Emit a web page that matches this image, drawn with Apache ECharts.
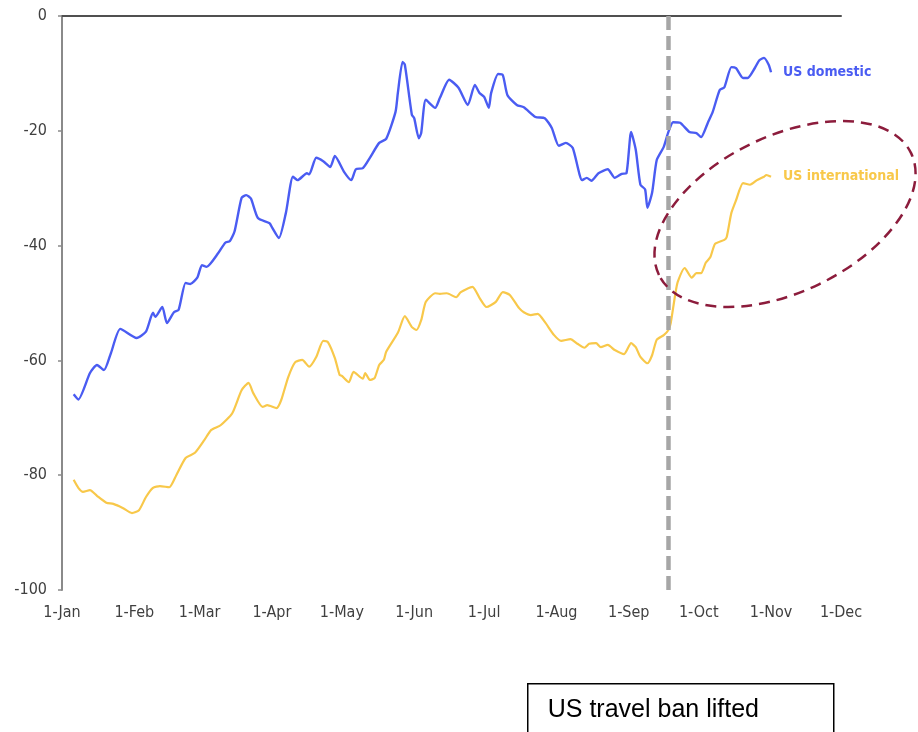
<!DOCTYPE html>
<html>
<head>
<meta charset="utf-8">
<script src="https://cdn.jsdelivr.net/npm/echarts@6/dist/echarts.min.js"></script>
<style>
  html, body { margin: 0; padding: 0; background: #ffffff; }
  #chart { width: 918px; height: 732px; }
</style>
</head>
<body>
<div id="chart"></div>
<script>
// ---- Data (day offsets from 1 Jan 2021, values in %) ----
const YEAR = 2021;
const monthNames = ['Jan','Feb','Mar','Apr','May','Jun','Jul','Aug','Sep','Oct','Nov','Dec'];
const monthTickMonths = [0,1,2,3,4,5,6,7,8,9,10,11];
const yTicks = [0, -20, -40, -60, -80, -100];

const domesticName = 'US domestic';
const domesticDay = [5,7,12,15,18,21,25,32,36,39,40,43,45,48,50,53,55,58,60,62,67,70,72,74,77,79,81,84,89,90,93,96,99,101,105,106,109,112,115,117,121,124,126,129,132,136,139,143,144,146,147,150,151,153,154,156,160,162,166,170,174,177,179,181,183,184,187,189,191,195,198,203,207,210,213,216,219,223,225,227,230,234,237,240,242,244,246,248,250,251,253,255,258,260,262,265,269,272,274,277,279,282,284,287,289,292,294,297,299,301,303,304];
const domesticVal = [-65.9,-66.8,-62.2,-60.8,-61.7,-58.7,-54.5,-56.1,-55,-51.7,-52.4,-50.7,-53.5,-51.6,-51.2,-46.5,-46.7,-45.6,-43.4,-43.7,-41.3,-39.5,-39.2,-37.5,-31.7,-31.2,-31.8,-35.2,-36.1,-36.8,-38.7,-34.3,-28.0,-28.6,-27.4,-27.6,-24.7,-25.3,-26.3,-24.4,-27.2,-28.6,-26.7,-26.5,-24.7,-22.1,-21.4,-16.7,-13.4,-8.0,-8.5,-17.2,-17.8,-21.3,-20.4,-14.6,-16.0,-14.3,-11.1,-12.5,-15.5,-12.0,-13.4,-14.1,-16.0,-13.4,-10.1,-10.3,-13.8,-15.5,-15.9,-17.6,-17.8,-19.5,-22.6,-22.1,-23,-28.6,-28.2,-28.7,-27.4,-26.7,-28.2,-27.5,-27.4,-20.2,-23.3,-29.4,-30.2,-33.4,-30.8,-25.1,-22.8,-20.2,-18.5,-18.6,-20.2,-20.4,-21.1,-18.5,-16.7,-12.9,-12.4,-8.9,-9.1,-10.8,-10.8,-9.1,-7.7,-7.3,-8.5,-9.8];

const intlName = 'US international';
const intlDay = [5,7,9,12,15,19,22,26,30,33,36,39,42,46,49,53,57,61,64,68,73,77,80,82,86,88,92,94,97,100,103,106,109,112,114,117,119,120,123,125,129,130,132,134,136,138,139,144,147,150,152,154,156,160,162,165,169,171,176,179,182,186,189,192,196,198,201,204,207,211,214,218,221,224,226,229,231,234,237,241,244,246,248,251,253,255,258,260,261,263,264,267,270,272,274,276,278,280,284,285,287,289,292,295,298,301,302,304];
const intlVal = [-80.8,-82.2,-82.9,-82.6,-83.6,-84.8,-85,-85.7,-86.6,-86.1,-83.8,-82.2,-81.9,-82.1,-80,-77,-76.1,-73.9,-72.1,-71.3,-69.2,-65.2,-63.9,-65.7,-68.1,-67.8,-68.3,-66.9,-62.9,-60.3,-59.9,-61.1,-59.4,-56.6,-56.8,-59.6,-62.5,-62.7,-63.8,-62,-63.2,-62.2,-63.4,-63.1,-60.8,-59.9,-58.5,-55.2,-52.3,-54.2,-54.7,-53,-49.8,-48.3,-48.4,-48.3,-49,-48.1,-47.2,-49.1,-50.7,-49.8,-48.1,-48.6,-50.9,-51.6,-52.1,-51.9,-53.3,-55.6,-56.6,-56.3,-57.1,-57.8,-57.1,-57,-57.7,-57.3,-58.2,-58.9,-57,-57.7,-59.4,-60.5,-59.1,-56.4,-55.6,-54.7,-53.5,-48.3,-46.3,-43.9,-45.6,-44.8,-44.8,-43,-42,-39.7,-39,-38.5,-34.3,-32.1,-29.1,-29.4,-28.6,-28,-27.7,-28];

// annotation
const banLiftedDay = 260;              // ~18 Sep 2021
const banLabel = 'US travel ban lifted';
const highlightCenterDay = 310;        // centre of dashed ellipse
const highlightCenterVal = -34.5;

// ---- helpers ----
const DAY = 86400000;
const t0 = Date.UTC(YEAR, 0, 1);
const toTime = d => t0 + d * DAY;
const pairs = (days, vals) => days.map((d, i) => [toTime(d), vals[i]]);
const monthStarts = monthTickMonths.map(m => Date.UTC(YEAR, m, 1));

const fontNarrow = "'Liberation Sans Narrow', 'DejaVu Sans Condensed', 'Arial Narrow', sans-serif";
const blue = '#4a5cf2';
const yellow = '#f8c84a';

const chart = echarts.init(document.getElementById('chart'), null, { renderer: 'canvas' });

const option = {
  backgroundColor: '#ffffff',
  animation: false,
  grid: { left: 62, right: 77, top: 16, bottom: 142 },
  xAxis: [
    {
      type: 'value',
      position: 'bottom',
      min: monthStarts[0],
      max: monthStarts[monthStarts.length - 1],
      axisLine: { show: false, onZero: false },
      axisTick: { show: false },
      splitLine: { show: false },
      axisLabel: {
        customValues: monthStarts,
        showMinLabel: true,
        showMaxLabel: true,
        hideOverlap: false,
        margin: 15,
        color: '#404040',
        fontFamily: fontNarrow,
        fontSize: 16,
        formatter: v => { const d = new Date(v); return d.getUTCDate() + '-' + monthNames[d.getUTCMonth()]; }
      }
    },
    {
      type: 'value',
      position: 'top',
      min: monthStarts[0],
      max: monthStarts[monthStarts.length - 1],
      axisLine: { show: true, onZero: false, lineStyle: { color: '#505050', width: 2 } },
      axisTick: { show: false },
      axisLabel: { show: false },
      splitLine: { show: false }
    }
  ],
  yAxis: {
    type: 'value',
    min: -100,
    max: 0,
    interval: 20,
    axisLine: { show: true, onZero: false, lineStyle: { color: '#8a8a8a', width: 2 } },
    axisTick: { show: true, length: 4, lineStyle: { color: '#8a8a8a', width: 1.5 } },
    splitLine: { show: false },
    axisLabel: {
      margin: 15,
      color: '#404040',
      fontFamily: fontNarrow,
      fontSize: 16
    }
  },
  series: [
    {
      name: domesticName,
      type: 'line',
      data: pairs(domesticDay, domesticVal),
      showSymbol: false,
      smooth: 0.2,
      lineStyle: { color: blue, width: 2.4 },
      itemStyle: { color: blue },
      endLabel: {
        show: true,
        formatter: '{a}',
        color: blue,
        fontWeight: 'bold',
        fontFamily: fontNarrow,
        fontSize: 14,
        distance: 12
      },
      z: 3
    },
    {
      name: intlName,
      type: 'line',
      data: pairs(intlDay, intlVal),
      showSymbol: false,
      smooth: 0.2,
      lineStyle: { color: yellow, width: 2.2 },
      itemStyle: { color: yellow },
      endLabel: {
        show: true,
        formatter: '{a}',
        color: yellow,
        fontWeight: 'bold',
        fontFamily: fontNarrow,
        fontSize: 14,
        distance: 12
      },
      markLine: {
        silent: true,
        symbol: ['none', 'none'],
        label: { show: false },
        lineStyle: { color: '#a6a6a6', type: [14, 6], width: 4.5 },
        data: [{ xAxis: toTime(banLiftedDay) }],
        z: 10
      },
      z: 3
    }
  ]
};
chart.setOption(option);

// ellipse highlight placed from data coordinates, plus the text box
const c = chart.convertToPixel({ xAxisIndex: 0, yAxisIndex: 0 }, [toTime(highlightCenterDay), highlightCenterVal]);
chart.setOption({
  graphic: [
    {
      type: 'ellipse',
      x: c[0],
      y: c[1],
      rotation: 0.45,
      shape: { cx: 0, cy: 0, rx: 140, ry: 78 },
      style: { fill: 'none', stroke: '#8c1c3c', lineWidth: 2.5, lineDash: [11, 7] },
      z: 20,
      silent: true
    },
    {
      type: 'group',
      left: 527,
      top: 683,
      children: [
        {
          type: 'rect',
          shape: { x: 0, y: 0, width: 306, height: 70 },
          style: { fill: '#ffffff', stroke: '#000000', lineWidth: 1.5 }
        },
        {
          type: 'text',
          x: 20,
          y: 26,
          style: {
            text: banLabel,
            fill: '#000000',
            font: "25px 'Liberation Sans', Arial, sans-serif",
            verticalAlign: 'middle'
          }
        }
      ]
    }
  ]
});
</script>
</body>
</html>
